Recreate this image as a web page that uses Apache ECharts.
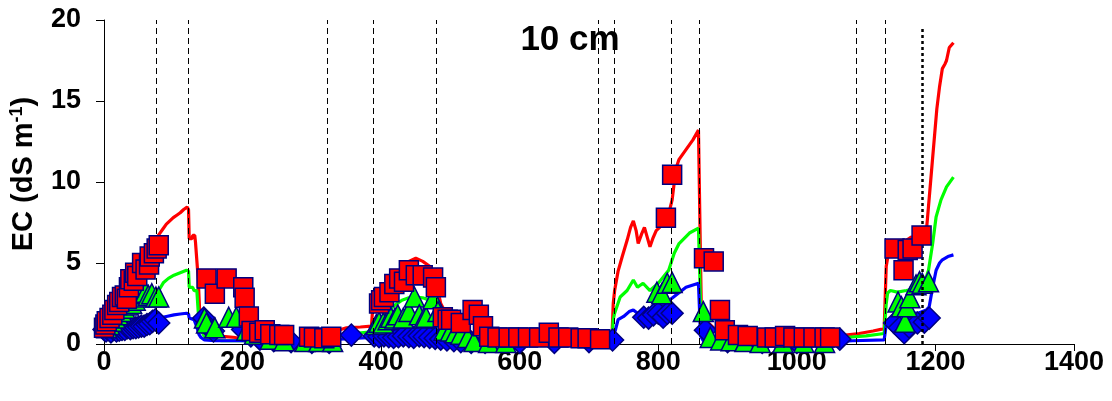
<!DOCTYPE html>
<html><head><meta charset="utf-8">
<script src="https://cdn.jsdelivr.net/npm/echarts@6/dist/echarts.min.js"></script>
<style>html,body{margin:0;padding:0;background:#fff}#c{width:1112px;height:401px}</style>
</head><body><div id="c"></div>
<script>
// ---- data ----
const xTicks = [0, 200, 400, 600, 800, 1000, 1200, 1400];
const yTicks = [0, 5, 10, 15, 20];
const titleText = '10 cm';
const eventLines = [76, 122, 322, 388, 480, 714, 737, 819, 859, 1085, 1128];
const dottedLine = 1181;

const redLine = [[0,1.0],[5,1.2],[10,1.5],[15,1.9],[20,2.3],[25,2.7],[30,3.1],[35,3.6],[40,4.1],[45,4.7],[50,5.2],[55,5.7],[60,5.8],[65,5.9],[70,6.2],[75,6.5],[80,6.8],[85,7.1],[90,7.4],[95,7.6],[100,7.8],[105,7.95],[110,8.1],[115,8.3],[120,8.45],[122,8.3],[123,6.5],[127,6.5],[128,6.7],[131,6.7],[132,6.3],[134,6.2],[136,4.0],[138,2.1],[141,1.3],[144,0.8],[148,0.5],[160,0.45],[175,0.45],[190,0.4],[210,0.35],[230,0.3],[260,0.3],[280,0.3],[300,0.35],[320,0.5],[335,0.8],[350,1.0],[370,1.05],[386,1.1],[388,2.3],[391,2.7],[395,2.9],[400,3.2],[410,3.7],[420,4.2],[430,4.7],[440,5.1],[450,5.3],[460,5.1],[470,4.8],[478,4.2],[482,3.3],[486,2.5],[492,2.0],[500,1.7],[510,1.4],[520,1.0],[535,0.6],[550,0.45],[580,0.35],[620,0.3],[660,0.3],[700,0.3],[733,0.3],[735,2.5],[737,3.3],[742,4.5],[748,5.4],[755,6.4],[760,7.2],[764,7.6],[768,7.0],[771,6.2],[776,6.8],[780,7.2],[784,6.6],[788,6.0],[792,6.5],[797,7.0],[802,7.2],[807,7.6],[812,7.9],[816,8.2],[820,8.9],[824,10.3],[826,10.9],[830,11.4],[840,12.0],[850,12.6],[858,13.2],[860,13.1],[861,5.0],[862,2.5],[865,1.8],[870,1.4],[880,1.0],[890,0.6],[900,0.4],[920,0.35],[960,0.3],[1000,0.3],[1040,0.3],[1060,0.4],[1070,0.55],[1090,0.65],[1110,0.8],[1126,0.95],[1129,4.8],[1131,5.3],[1134,5.6],[1140,5.7],[1146,5.9],[1152,6.2],[1158,6.4],[1165,6.6],[1172,6.5],[1180,6.8],[1187,7.0],[1190,8.5],[1193,10.0],[1196,11.5],[1199,13.0],[1202,14.5],[1206,15.9],[1210,17.0],[1214,17.3],[1216,17.5],[1220,18.3],[1226,18.6]];

const greenLine = [[0,0.8],[10,1.0],[20,1.3],[30,1.6],[40,1.9],[50,2.2],[60,2.6],[70,3.0],[79,3.3],[86,3.8],[93,4.05],[101,4.25],[110,4.4],[119,4.55],[122,4.5],[123,3.5],[128,3.5],[130,3.3],[134,3.3],[136,2.0],[138,1.3],[141,0.8],[145,0.45],[150,0.3],[170,0.2],[200,0.2],[250,0.15],[300,0.2],[320,0.3],[340,0.5],[360,0.65],[386,0.75],[388,1.2],[392,1.4],[400,1.6],[410,2.0],[420,2.4],[430,2.7],[440,2.85],[450,2.9],[460,2.85],[470,2.7],[478,2.4],[483,1.9],[488,1.3],[495,0.9],[505,0.6],[520,0.35],[540,0.2],[600,0.15],[650,0.15],[700,0.15],[733,0.15],[735,1.5],[737,1.9],[745,2.9],[755,3.3],[764,3.95],[770,3.5],[778,3.75],[788,3.3],[800,3.75],[815,4.55],[823,5.6],[830,6.2],[845,6.85],[858,7.15],[860,7.1],[861,2.5],[863,1.0],[867,0.5],[875,0.3],[900,0.2],[1000,0.2],[1060,0.25],[1070,0.4],[1100,0.5],[1126,0.65],[1129,2.5],[1131,3.15],[1135,3.3],[1145,3.2],[1158,3.3],[1170,3.4],[1184,3.75],[1190,4.55],[1196,6.2],[1201,7.85],[1208,8.9],[1216,9.7],[1226,10.3]];

const blueLine = [[0,0.7],[20,0.8],[40,0.9],[60,1.1],[70,1.3],[80,1.6],[90,1.7],[101,1.8],[110,1.85],[119,1.9],[122,1.85],[123,1.6],[130,1.5],[134,1.05],[137,0.6],[140,0.4],[145,0.25],[160,0.2],[200,0.2],[250,0.15],[300,0.2],[340,0.3],[360,0.35],[386,0.4],[388,0.7],[400,0.85],[420,0.95],[440,1.0],[460,0.95],[478,0.9],[485,0.6],[495,0.3],[510,0.15],[560,0.1],[650,0.1],[733,0.1],[735,0.6],[738,0.85],[742,1.5],[750,1.7],[758,2.0],[764,2.1],[770,1.9],[778,2.0],[790,2.1],[800,2.2],[810,2.5],[822,2.9],[840,3.5],[858,3.75],[860,3.7],[861,0.5],[865,0.2],[900,0.1],[1000,0.1],[1060,0.15],[1080,0.2],[1126,0.25],[1129,1.2],[1131,1.5],[1140,1.6],[1158,1.9],[1175,1.9],[1187,2.1],[1191,2.3],[1196,3.5],[1201,4.55],[1206,5.0],[1210,5.2],[1218,5.4],[1226,5.5]];

const redSquares = [[0,1.0],[2,1.2],[4,1.4],[8,1.6],[12,1.8],[15,2.1],[19,2.4],[22,2.6],[26,2.9],[30,3.0],[33,2.8],[36,3.5],[38,4.0],[43,3.9],[45,4.4],[48,4.2],[55,5.0],[60,4.6],[65,4.9],[66,5.4],[72,5.6],[76,5.9],[79,6.1],[148,4.05],[160,3.1],[177,4.05],[201,3.5],[203,2.85],[209,1.7],[213,0.8],[224,0.7],[232,0.85],[240,0.6],[253,0.55],[260,0.55],[296,0.45],[303,0.4],[318,0.35],[328,0.45],[397,2.5],[400,2.7],[404,2.9],[412,3.2],[419,3.7],[426,4.05],[433,3.85],[440,4.55],[450,4.25],[460,4.25],[475,4.1],[479,3.5],[489,1.65],[496,1.5],[501,1.5],[515,1.3],[532,2.1],[541,1.8],[547,1.1],[556,0.45],[568,0.4],[584,0.4],[598,0.4],[612,0.4],[628,0.4],[642,0.7],[656,0.4],[670,0.4],[688,0.35],[698,0.35],[716,0.3],[811,7.8],[820,10.45],[866,5.3],[880,5.1],[889,2.1],[896,0.85],[915,0.55],[929,0.5],[957,0.4],[968,0.4],[983,0.5],[995,0.4],[1010,0.4],[1024,0.4],[1040,0.4],[1048,0.4],[1141,5.9],[1154,4.55],[1160,5.8],[1167,5.9],[1180,6.7]];

const greenTriangles = [[4,1.0],[8,1.2],[12,1.4],[16,1.6],[20,1.8],[25,2.0],[30,2.2],[35,2.4],[40,2.5],[45,2.7],[50,2.9],[55,3.1],[60,3.2],[64,3.0],[69,3.1],[75,2.9],[79,2.9],[145,1.6],[148,1.3],[160,1.0],[180,1.65],[191,1.65],[206,0.85],[217,0.6],[240,0.3],[260,0.2],[290,0.15],[310,0.15],[330,0.15],[393,1.2],[397,1.35],[403,1.3],[410,1.5],[414,1.65],[420,1.6],[424,1.8],[432,1.6],[440,2.0],[448,2.9],[455,1.8],[462,1.6],[465,1.65],[475,2.8],[482,2.0],[491,0.85],[500,0.8],[507,0.7],[515,0.6],[525,0.4],[534,0.15],[555,0.1],[580,0.1],[798,3.2],[805,3.1],[813,3.75],[820,3.8],[865,2.0],[875,0.4],[890,0.25],[905,0.2],[925,0.15],[947,0.1],[980,0.1],[1010,0.1],[1040,0.1],[1146,2.6],[1151,2.3],[1156,1.35],[1159,2.3],[1163,2.85],[1172,3.65],[1177,3.85],[1181,3.75],[1190,3.85]];

const blueDiamonds = [[0,0.9],[3,0.8],[6,0.9],[10,0.75],[14,0.9],[18,0.8],[22,0.85],[26,0.9],[30,0.9],[34,1.0],[38,0.95],[42,1.0],[46,1.0],[50,1.05],[54,1.1],[58,1.1],[62,1.2],[66,1.25],[70,1.4],[74,1.5],[79,1.3],[144,1.6],[150,1.1],[158,0.8],[200,0.9],[212,0.5],[225,0.3],[245,0.2],[270,0.15],[300,0.1],[325,0.1],[357,0.55],[390,0.5],[397,0.45],[404,0.5],[411,0.45],[418,0.4],[425,0.45],[432,0.5],[440,0.45],[447,0.4],[455,0.5],[462,0.45],[470,0.4],[478,0.35],[486,0.3],[495,0.25],[505,0.2],[515,0.15],[530,0.1],[550,0.1],[600,0.1],[650,0.1],[700,0.15],[734,0.25],[779,1.65],[786,1.6],[793,1.8],[800,1.9],[807,1.65],[813,1.9],[820,1.9],[868,0.85],[900,0.15],[950,0.1],[1000,0.1],[1062,0.3],[1141,1.3],[1148,1.0],[1155,0.7],[1162,1.05],[1174,1.3],[1184,1.35],[1191,1.6]];

// ---- chart ----
const FONT = 'Liberation Sans, Arial, sans-serif';
const chart = echarts.init(document.getElementById('c'), null, {renderer: 'canvas'});
const markerBorder = '#000080';
chart.setOption({
  animation: false,
  backgroundColor: '#fff',
  grid: {left: 102, right: 38, top: 20, bottom: 57, containLabel: false},
  xAxis: {
    type: 'value', min: xTicks[0], max: xTicks[xTicks.length-1], interval: xTicks[1]-xTicks[0],
    axisLine: {lineStyle: {color: '#000', width: 1}},
    axisTick: {show: true, length: 7, lineStyle: {color: '#000'}},
    splitLine: {show: false},
    axisLabel: {color: '#000', fontFamily: FONT, fontWeight: 'bold', fontSize: 27, margin: 5,
      formatter: v => String(v)}
  },
  yAxis: {
    type: 'value', min: yTicks[0], max: yTicks[yTicks.length-1], interval: yTicks[1]-yTicks[0],
    axisLine: {show: true, lineStyle: {color: '#000', width: 1}},
    axisTick: {show: true, length: 8, lineStyle: {color: '#000'}},
    splitLine: {show: false},
    axisLabel: {color: '#000', fontFamily: FONT, fontWeight: 'bold', fontSize: 27, margin: 23,
      formatter: v => String(v)},
    name: '{a|EC (dS m}{b|-1}{a|)}',
    nameLocation: 'middle', nameRotate: 90, nameGap: 64,
    nameTextStyle: {
      padding: [0, 0, 0, 16],
      rich: {
        a: {fontFamily: FONT, fontWeight: 'bold', fontSize: 29, color: '#000'},
        b: {fontFamily: FONT, fontWeight: 'bold', fontSize: 18, color: '#000', padding: [0, 0, 14, 0]}
      }
    }
  },
  graphic: [{
    type: 'text', x: 570, y: 40,
    style: {text: titleText, textAlign: 'center', textVerticalAlign: 'middle', font: 'bold 35px ' + FONT, fill: '#000'}
  }],
  series: [
    {type: 'line', data: redLine, showSymbol: false, lineStyle: {color: '#ff0000', width: 3.2}, z: 2,
     markLine: {silent: true, symbol: ['none','none'], label: {show: false},
       lineStyle: {color: '#000', width: 1, type: [6, 4]},
       data: eventLines.map(v => ({xAxis: v})).concat([[{coord: [dottedLine, 0], lineStyle: {type: [3,3], width: 2.5, color: '#000'}}, {coord: [dottedLine, 19.55]}]])}},
    {type: 'line', data: greenLine, showSymbol: false, lineStyle: {color: '#00ff00', width: 3.2}, z: 2},
    {type: 'line', data: blueLine, showSymbol: false, lineStyle: {color: '#0000ff', width: 3.2}, z: 2},
    {type: 'scatter', data: blueDiamonds, symbol: 'diamond', symbolSize: 22, z: 3,
     itemStyle: {color: '#0000ff', borderColor: markerBorder, borderWidth: 1.5, opacity: 1}},
    {type: 'scatter', data: greenTriangles, symbol: 'triangle', symbolSize: 20, z: 4,
     itemStyle: {color: '#00ff00', borderColor: markerBorder, borderWidth: 1.5, opacity: 1}},
    {type: 'scatter', data: redSquares, symbol: 'rect', symbolSize: 19, z: 5,
     itemStyle: {color: '#ff0000', borderColor: markerBorder, borderWidth: 1.5, opacity: 1}}
  ]
});
</script></body></html>
